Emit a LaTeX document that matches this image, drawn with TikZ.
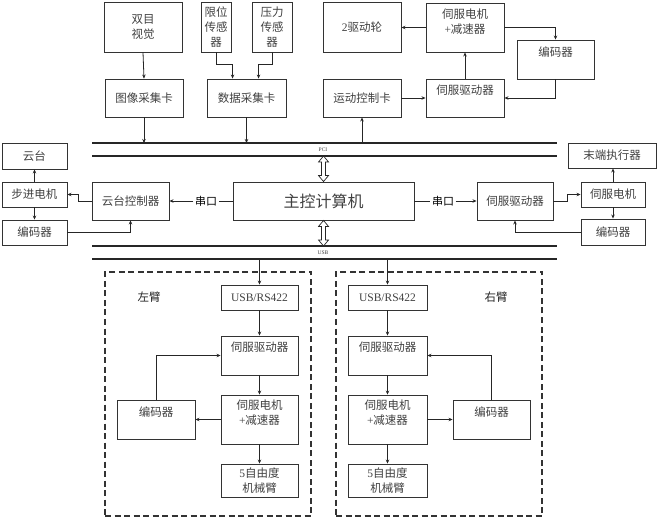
\documentclass[tikz,border=0pt]{standalone}
\usepackage{fontspec}
\setmainfont{Liberation Serif}
\newfontfamily\cjk{Noto Sans CJK SC}
\usetikzlibrary{arrows.meta,calc}
\tikzset{
  box/.style={draw=black!80, line width=0.9pt, inner sep=0pt, rectangle},
  txt/.style={font=\cjk\fontsize{11.5}{15}\selectfont, text=black!75, align=center, inner sep=0pt},
  ck/.style={font=\cjk\fontsize{11}{12}\selectfont, text=black, inner sep=1.5pt},
  small/.style={font=\fontsize{5.5}{6}\selectfont, text=black!75, inner sep=0pt},
  arr/.style={draw=black!85, line width=0.8pt, -{Stealth[length=4pt,width=3.5pt]}},
  ln/.style={draw=black!85, line width=0.8pt},
  bus/.style={draw=black!85, line width=1.3pt},
  dbl/.style={draw=black!85, fill=white, line width=0.7pt, line join=miter},
  arm/.style={draw=black!80, line width=1.2pt, dash pattern=on 6pt off 3.5pt, inner sep=0pt},
}
\newcommand\bx[7]{%
  \node[box, minimum width={#4-#2}, minimum height={#5-#3}] (#1) at ({(#2+#4)/2},{(#3+#5)/2}) {};
  \node[txt, yshift=#7] (#1-t) at (#1.center) {#6};}
% hollow double-headed vertical arrow between two points (#1 above #2)
\newcommand\dblarrow[2]{%
  \draw[dbl] let \p1=(#1), \p2=(#2) in
    (\x1,\y1) -- (\x1-5pt,\y1-6pt) -- (\x1-2pt,\y1-6pt) -- (\x1-2pt,\y2+6pt)
    -- (\x1-5pt,\y2+6pt) -- (\x1,\y2) -- (\x1+5pt,\y2+6pt) -- (\x1+2pt,\y2+6pt)
    -- (\x1+2pt,\y1-6pt) -- (\x1+5pt,\y1-6pt) -- cycle;}
\begin{document}
\begin{tikzpicture}[x=1pt,y=-1pt]
\useasboundingbox (0,0) rectangle (658,518);
% top row
\bx{sj}{104}{2}{182}{52}{双目\\视觉}{0pt}
\bx{xw}{201}{2}{231}{52}{限位\\传感\\器}{0pt}
\bx{yl}{252}{2}{292}{52}{压力\\传感\\器}{0pt}
\bx{qd}{323}{2}{401}{52}{\textrm{2}驱动轮}{0pt}
\bx{dj}{426}{3}{504}{52}{伺服电机\\\textrm{+}减速器}{6pt}
\bx{bm}{517}{40}{594}{79}{编码器}{7pt}
\bx{tx}{105}{79}{183}{117}{图像采集卡}{0pt}
\bx{sk}{207}{79}{286}{117}{数据采集卡}{0pt}
\bx{yd}{323}{79}{401}{117}{运动控制卡}{0pt}
\bx{sq}{426}{79}{504}{117}{伺服驱动器}{8pt}
% buses
\coordinate (p1a) at (92,143); \coordinate (p1b) at (557,143);
\coordinate (p2a) at (92,156); \coordinate (p2b) at (557,156);
\coordinate (u1a) at (92,246); \coordinate (u1b) at (557,246);
\coordinate (u2a) at (92,259); \coordinate (u2b) at (557,259);
\draw[bus] (p1a) -- (p1b);
\draw[bus] (p2a) -- (p2b);
\draw[bus] (u1a) -- (u1b);
\draw[bus] (u2a) -- (u2b);
\node[small] (pcil) at (323,150) {PCI};
\node[small] (usbl) at (323,252.5) {USB};
% top arrows
\draw[arr] (sj.south) -- (tx.north);
\draw[arr] (xw.south) -- ++(0,12) -| ($(sk.north west)+(26,0)$);
\draw[arr] (yl.south) -- ++(0,12) -| ($(sk.north west)+(52,0)$);
\draw[arr] (tx.south) -- (tx.south |- p1a);
\draw[arr] (sk.south) -- (sk.south |- p1a);
\draw[arr] (yd.south |- p1a) -- (yd.south);
\draw[arr] (yd.east) -- (sq.west);
\draw[arr] (sq.north) -- (dj.south);
\draw[arr] (dj.west) -- (dj.west -| qd.east);
\draw[arr] (dj.east) -| (bm.north);
\draw[arr] (bm.south) |- (sq.east);
% main computer
\bx{zk}{233}{182}{414}{220}{\fontsize{16}{18}\selectfont 主控计算机}{0pt}
\coordinate (dA) at (zk.north |- p2a);
\coordinate (dB) at (zk.south |- u1a);
\dblarrow{dA}{zk.north}
\dblarrow{zk.south}{dB}
% left side
\bx{yt}{2}{143}{67}{169}{云台}{0pt}
\bx{bj}{2}{182}{67}{207}{步进电机}{0pt}
\bx{bmL}{2}{220}{67}{245}{编码器}{0pt}
\bx{ytk}{92}{182}{169}{220}{云台控制器}{0pt}
\draw[arr] (bj.north) -- (yt.south);
\draw[arr] (bj.south) -- (bmL.north);
\draw[arr] (ytk.west) -- ++(-13,0) |- (bj.east);
\draw[arr] (bmL.east) -| (ytk.south);
\node[ck] (ck1) at (206,201) {串口};
\draw[ln] (zk.west) -- (ck1.east);
\draw[arr] (ck1.west) -- (ytk.east);
% right side
\bx{qdR}{477}{182}{553}{220}{伺服驱动器}{0pt}
\bx{mz}{568}{143}{656}{168}{末端执行器}{0pt}
\bx{djR}{581}{182}{645}{207}{伺服电机}{0pt}
\bx{bmR}{581}{219}{645}{245}{编码器}{0pt}
\node[ck] (ck2) at (443,201) {串口};
\draw[ln] (zk.east) -- (ck2.west);
\draw[arr] (ck2.east) -- (qdR.west);
\draw[arr] (qdR.east) -- ++(14,0) |- (djR.west);
\draw[arr] (bmR.west) -| (qdR.south);
\draw[arr] (djR.north) -- (djR.north |- mz.south);
\draw[arr] (djR.south) -- (bmR.north);
% left arm
\node[arm, minimum width=206, minimum height=244] (armL) at (208,394) {};
\node[txt, text=black!85] (zb) at (149,297) {左臂};
\bx{usbL}{221}{285}{298}{310}{\textrm{USB/RS422}}{0pt}
\bx{qdL}{221}{336}{298}{375}{伺服驱动器}{8pt}
\bx{djL}{221}{395}{298}{444}{伺服电机\\\textrm{+}减速器}{7pt}
\bx{jbL}{221}{464}{298}{497}{\textrm{5}自由度\\机械臂}{0pt}
\bx{bmL2}{117}{400}{195}{439}{编码器}{7pt}
\draw[arr] (usbL.north |- u2a) -- (usbL.north);
\draw[arr] (usbL.south) -- (qdL.north);
\draw[arr] (qdL.south) -- (djL.north);
\draw[arr] (djL.south) -- (jbL.north);
\draw[arr] (djL.west) -- (djL.west -| bmL2.east);
\draw[arr] (bmL2.north) |- (qdL.west);
% right arm
\node[arm, minimum width=206, minimum height=244] (armR) at (439,394) {};
\node[txt, text=black!85] (yb) at (496,297) {右臂};
\bx{usbR}{348}{285}{427}{310}{\textrm{USB/RS422}}{0pt}
\bx{qdR2}{348}{336}{427}{375}{伺服驱动器}{8pt}
\bx{djR2}{348}{395}{427}{444}{伺服电机\\\textrm{+}减速器}{7pt}
\bx{jbR}{348}{464}{427}{497}{\textrm{5}自由度\\机械臂}{0pt}
\bx{bmR2}{453}{400}{530}{439}{编码器}{7pt}
\draw[arr] (usbR.north |- u2a) -- (usbR.north);
\draw[arr] (usbR.south) -- (qdR2.north);
\draw[arr] (qdR2.south) -- (djR2.north);
\draw[arr] (djR2.south) -- (jbR.north);
\draw[arr] (djR2.east) -- (djR2.east -| bmR2.west);
\draw[arr] (bmR2.north) |- (qdR2.east);
\end{tikzpicture}
\end{document}
